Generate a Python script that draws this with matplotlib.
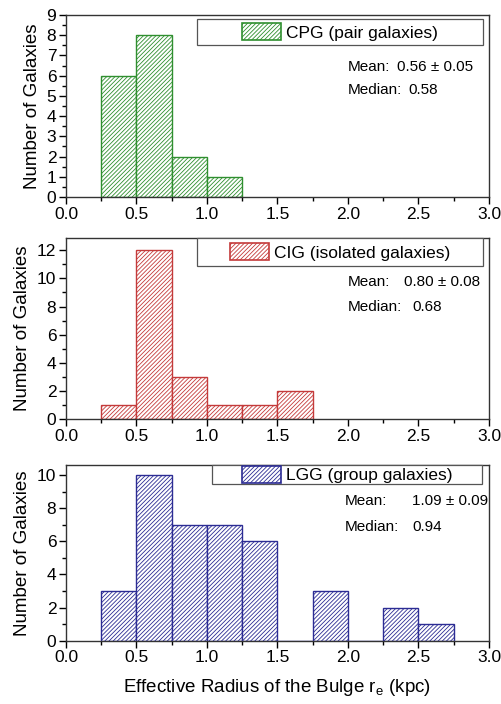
import matplotlib
matplotlib.use("Agg")
import matplotlib.pyplot as plt
import numpy as np
from matplotlib.patches import Patch, Rectangle
from matplotlib.ticker import MultipleLocator

plt.rcParams["font.family"] = ["Liberation Sans", "DejaVu Sans"]
plt.rcParams["hatch.linewidth"] = 0.6

# bin left edges (kpc) and counts per sample
bin_start = 0.25
bin_width = 0.25
cpg_counts = [6, 8, 2, 1]
cig_counts = [1, 12, 3, 1, 1, 2]
lgg_counts = [3, 10, 7, 7, 6, 0, 3, 0, 2, 1]

labels = ["CPG (pair galaxies)", "CIG (isolated galaxies)", "LGG (group galaxies)"]
means = ["0.56 ± 0.05", "0.80 ± 0.08", "1.09 ± 0.09"]
medians = ["0.58", "0.68", "0.94"]
colors = ["#2f8f2f", "#c43a3a", "#2c2c94"]

fig = plt.figure(figsize=(5.01, 7.04), dpi=100)

# axes rectangles [left, bottom, width, height] in figure fraction
boxes = [[0.1317, 0.7202, 0.8443, 0.2585],
         [0.1317, 0.4048, 0.8443, 0.2576],
         [0.1317, 0.0899, 0.8443, 0.2496]]
ylims = [9, 12.9, 10.6]
ymajor = [1, 2, 2]
yminor = [0.5, 1, 1]
# legend frame (axes fraction): x0, y0, x1, y1
frames = [(0.31, 0.835, 0.986, 0.978),
          (0.31, 0.846, 0.986, 0.997),
          (0.345, 0.89, 0.984, 1.0)]
text_x = [(0.665, 0.783, 0.809), (0.665, 0.799, 0.820), (0.658, 0.818, 0.820)]
text_y = [(0.716, 0.588), (0.755, 0.617), (0.793, 0.648)]

all_counts = [cpg_counts, cig_counts, lgg_counts]

for i, counts in enumerate(all_counts):
    ax = fig.add_axes(boxes[i])
    lefts = bin_start + bin_width * np.arange(len(counts))
    ax.bar(lefts, counts, width=bin_width, align="edge", facecolor="white",
           edgecolor=colors[i], hatch="////////", linewidth=1.0)

    ax.set_xlim(0, 3.0)
    ax.set_ylim(0, ylims[i])
    ax.xaxis.set_major_locator(MultipleLocator(0.5))
    ax.xaxis.set_minor_locator(MultipleLocator(0.25))
    ax.yaxis.set_major_locator(MultipleLocator(ymajor[i]))
    ax.yaxis.set_minor_locator(MultipleLocator(yminor[i]))
    ax.xaxis.set_major_formatter(matplotlib.ticker.FormatStrFormatter("%.1f"))
    ax.tick_params(which="major", direction="out", length=5, width=1,
                   labelsize=12.5, top=False, right=False, pad=2)
    ax.tick_params(which="minor", direction="out", length=3, width=1,
                   top=False, right=False)
    for sp in ax.spines.values():
        sp.set_linewidth(1.0)
        sp.set_color("#333333")
    ax.set_ylabel("Number of Galaxies", fontsize=13.5, labelpad=4)

    # legend box
    x0, y0, x1, y1 = frames[i]
    ax.add_patch(Rectangle((x0, y0), x1 - x0, y1 - y0, transform=ax.transAxes,
                           facecolor="white", edgecolor="#555555",
                           linewidth=0.9, zorder=3, clip_on=False))
    handle = Patch(facecolor="white", edgecolor=colors[i], hatch="////////",
                   linewidth=1.2)
    ax.legend([handle], [labels[i]], loc="center",
              bbox_to_anchor=((x0 + x1) / 2, (y0 + y1) / 2),
              frameon=False, fontsize=12.5, handlelength=2.25, handleheight=1.1,
              handletextpad=0.3, borderpad=0, borderaxespad=0)

    ax.text(text_x[i][0], text_y[i][0], "Mean:", transform=ax.transAxes,
            fontsize=11, va="center", ha="left")
    ax.text(text_x[i][1], text_y[i][0], means[i], transform=ax.transAxes,
            fontsize=11, va="center", ha="left")
    ax.text(text_x[i][0], text_y[i][1], "Median:", transform=ax.transAxes,
            fontsize=11, va="center", ha="left")
    ax.text(text_x[i][2], text_y[i][1], medians[i], transform=ax.transAxes,
            fontsize=11, va="center", ha="left")

    if i == 2:
        ax.set_xlabel(r"Effective Radius of the Bulge r$_\mathregular{e}$ (kpc)",
                      fontsize=13.5, labelpad=8)

fig.savefig("out.png", dpi=100)
